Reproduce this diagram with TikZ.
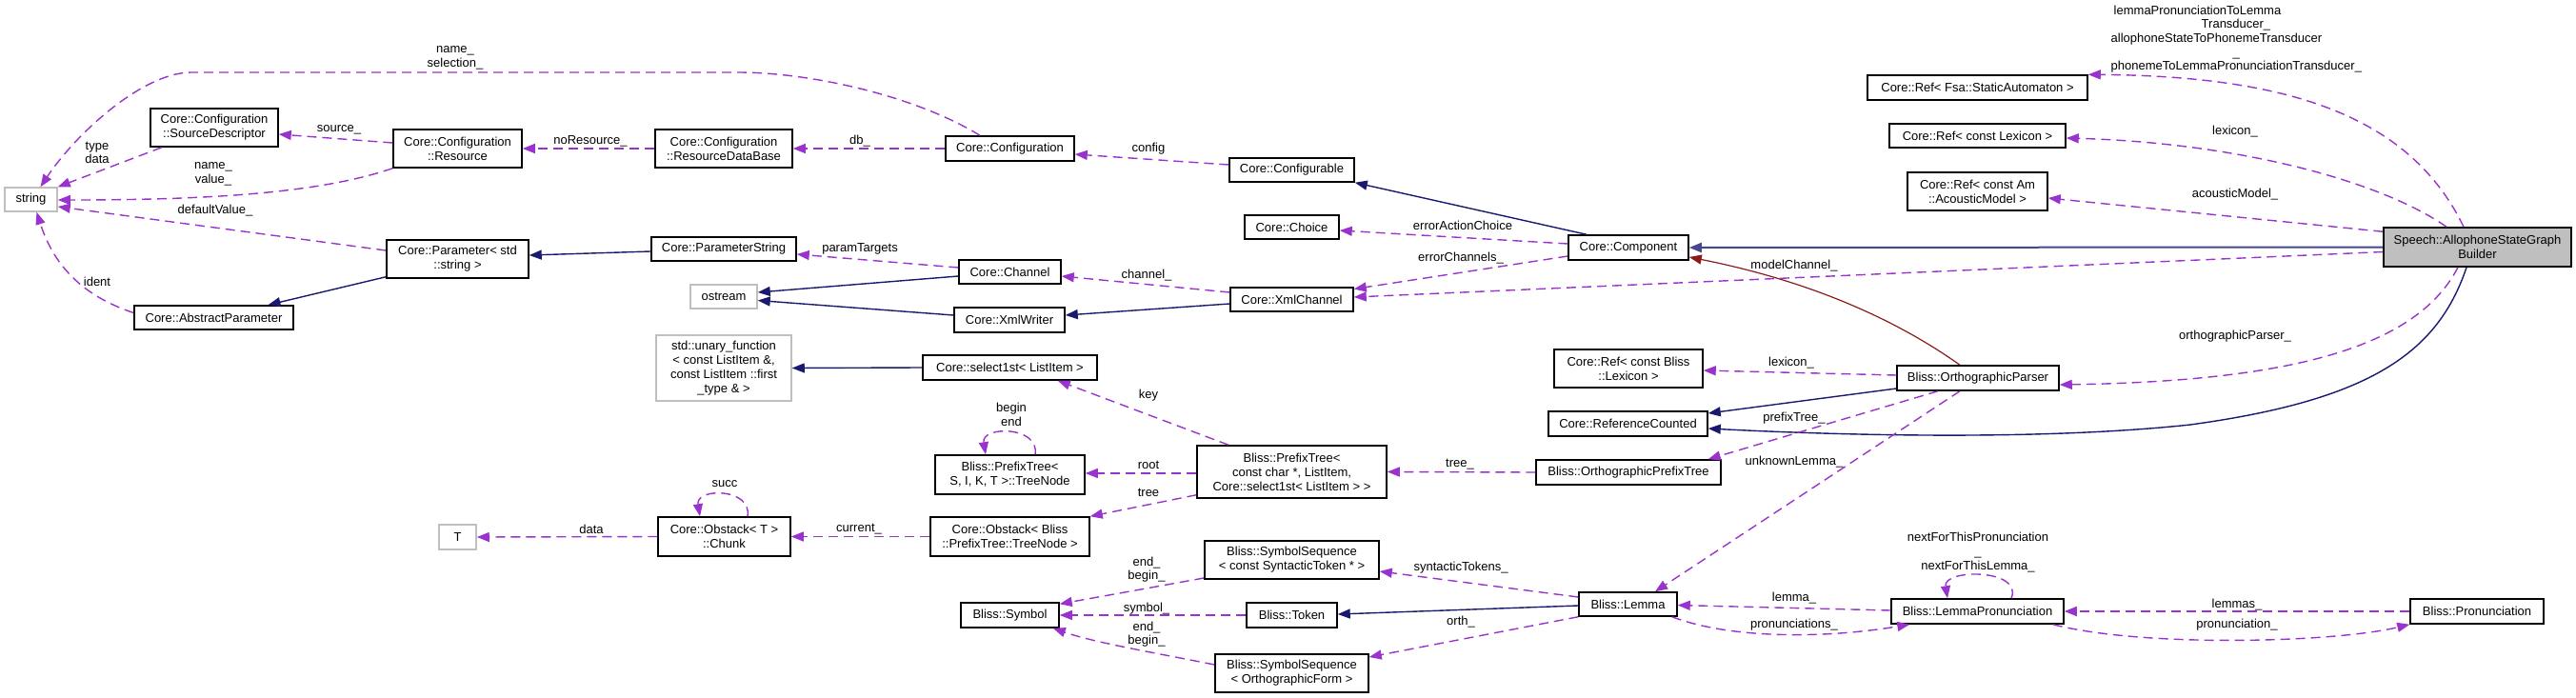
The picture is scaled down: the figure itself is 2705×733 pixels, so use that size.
\documentclass[tikz,border=0pt]{standalone}
\usepackage{fontspec}
\setmainfont{Liberation Sans}
\usetikzlibrary{arrows.meta,calc}
\definecolor{dxnavy}{HTML}{191970}
\definecolor{dxorch}{HTML}{9A32CD}
\definecolor{dxred}{HTML}{8B1A1A}
\definecolor{dxgray}{HTML}{BFBFBF}
\newcommand\dfs{\fontsize{13}{15}\selectfont}
\newcommand\lfs{\fontsize{13}{14.7}\selectfont}
\tikzset{
  cls/.style={draw=black, line width=1.5pt, fill=white, inner sep=0pt, align=center, font=\dfs},
  ext/.style={cls, draw=dxgray},
  sz/.style 2 args={minimum width=#1pt, minimum height=#2pt},
  tip/.style={-{Triangle[length=13pt,width=10pt]}},
  inh/.style={draw=dxnavy, line width=1.4pt, tip},
  priv/.style={draw=dxred, line width=1.2pt, tip},
  use/.style={draw=dxorch, line width=1.4pt, dash pattern=on 10pt off 6pt, tip},
  lbl/.style={font=\lfs, inner sep=0pt, align=center, text=black},
}
\begin{document}
\begin{tikzpicture}[x=1pt,y=-1pt]
\useasboundingbox (0,0) rectangle (2705,733);
% ---------- nodes ----------
\node[ext,sz={55}{25}] (string) at (32.5,209.5) {string};
\node[cls,sz={134}{40}] (srcdesc) at (225,134) {Core::Configuration\\::SourceDescriptor};
\node[cls,sz={135}{40}] (resource) at (480.5,156) {Core::Configuration\\::Resource};
\node[cls,sz={144}{40}] (resdb) at (760,156) {Core::Configuration\\::ResourceDataBase};
\node[cls,sz={135}{26}] (configuration) at (1060.5,156) {Core::Configuration};
\node[cls,sz={131}{25}] (configurable) at (1356.5,178.5) {Core::Configurable};
\node[cls,sz={99}{25}] (choice) at (1356.5,238.5) {Core::Choice};
\node[cls,sz={126}{26}] (component) at (1710,260) {Core::Component};
\node[cls,sz={149}{40}] (param) at (480.5,272) {Core::Parameter< std\\::string >};
\node[cls,sz={152}{25}] (paramstring) at (760,261.5) {Core::ParameterString};
\node[cls,sz={167}{25}] (abstractparam) at (224.5,333.5) {Core::AbstractParameter};
\node[ext,sz={70}{25}] (ostream) at (760,311.5) {ostream};
\node[cls,sz={107}{25}] (channel) at (1060.5,285.5) {Core::Channel};
\node[cls,sz={116}{26}] (xmlwriter) at (1060,336) {Core::XmlWriter};
\node[cls,sz={129}{25}] (xmlchannel) at (1356.5,314.5) {Core::XmlChannel};
\node[ext,sz={142}{69}] (unary) at (760,386.5) {std::unary\_function\\< const ListItem \&,\\ const ListItem ::first\\\_type \& >};
\node[cls,sz={183}{26}] (select1st) at (1060.5,386) {Core::select1st< ListItem >};
\node[cls,sz={157}{41}] (treenode) at (1060.5,498.5) {Bliss::PrefixTree<\\ S, I, K, T >::TreeNode};
\node[cls,sz={199}{55}] (prefixtree) at (1356.5,495.5) {Bliss::PrefixTree<\\ const char *, ListItem,\\ Core::select1st< ListItem > >};
\node[cls,sz={167}{41}] (obstacknode) at (1060.5,563.5) {Core::Obstack< Bliss\\::PrefixTree::TreeNode >};
\node[cls,sz={139}{41}] (chunk) at (760.5,563.5) {Core::Obstack< T >\\::Chunk};
\node[ext,sz={39}{26}] (tparam) at (480.5,564) {T};
\node[cls,sz={183}{40}] (symseqst) at (1356.5,588) {Bliss::SymbolSequence\\< const SyntacticToken * >};
\node[cls,sz={103}{26}] (symbol) at (1060.5,646) {Bliss::Symbol};
\node[cls,sz={95}{26}] (token) at (1356.5,646) {Bliss::Token};
\node[cls,sz={161}{40}] (symseqof) at (1356.5,707) {Bliss::SymbolSequence\\< OrthographicForm >};
\node[cls,sz={103}{25}] (lemma) at (1709.5,634.5) {Bliss::Lemma};
\node[cls,sz={156}{40}] (reflexbliss) at (1710,387) {Core::Ref< const Bliss\\::Lexicon >};
\node[cls,sz={167}{26}] (refcounted) at (1709.5,445) {Core::ReferenceCounted};
\node[cls,sz={194}{26}] (orthprefixtree) at (1710,496) {Bliss::OrthographicPrefixTree};
\node[cls,sz={170}{26}] (orthparser) at (2077,397) {Bliss::OrthographicParser};
\node[cls,sz={181}{26}] (lemmapron) at (2076.5,642) {Bliss::LemmaPronunciation};
\node[cls,sz={140}{26}] (pron) at (2601,642) {Bliss::Pronunciation};
\node[cls,sz={231}{26}] (reffsa) at (2076.5,92) {Core::Ref< Fsa::StaticAutomaton >};
\node[cls,sz={185}{25}] (reflex) at (2076.5,142.5) {Core::Ref< const Lexicon >};
\node[cls,sz={147}{40}] (refam) at (2076.5,201) {Core::Ref< const Am\\::AcousticModel >};
\node[cls,sz={197}{41},fill=dxgray] (speech) at (2601.5,259.5) {Speech::AllophoneStateGraph\\Builder};
% ---------- inheritance ----------
\draw[inh, draw=dxnavy!80, line width=2pt] (speech.west) -- (component.east);
\draw[inh] ($(speech.south)+(-11.5,0)$) .. controls (2560,370) and (2490,420) .. (2300,446)
   .. controls (2150,462) and (1950,458) .. ($(refcounted.east)+(0,5)$);
\draw[inh] ($(orthparser.west)+(0,11)$) -- ($(refcounted.east)+(0,-11)$);
\draw[inh] ($(component.north)+(-44,0)$) -- (configurable.south east);
\draw[inh] ($(xmlchannel.west)+(0,4.5)$) -- ($(xmlwriter.east)+(0,-5)$);
\draw[inh] ($(xmlwriter.west)+(0,-5)$) -- ($(ostream.east)+(0,4)$);
\draw[inh] ($(channel.west)+(0,4.5)$) -- ($(ostream.east)+(0,-4.5)$);
\draw[inh] ($(paramstring.west)+(0,2.5)$) -- ($(param.east)+(0,-4)$);
\draw[inh] ($(param.south west)+(0,-2)$) -- ($(abstractparam.north)+(57,0)$);
\draw[inh] (select1st.west) -- (unary.east);
\draw[inh] ($(lemma.west)+(0,1.5)$) -- ($(token.east)+(0,-1)$);
\draw[priv] ($(orthparser.north)+(-19,0)$) .. controls (1990,335) and (1900,295) .. ($(component.east)+(0,10)$);
% ---------- usage ----------
\draw[use] ($(configuration.north)+(-31.5,0)$) .. controls (960,100) and (850,76) .. (775,76) -- (201,76)
   .. controls (150,76) and (80,140) .. ($(string.north)+(10,0)$)
   node[lbl] at (478,60.5) {name\_\\selection\_};
\draw[use] ($(srcdesc.south)+(-55,0)$) -- (string.north east)
   node[lbl] at (102,160.5) {type\\data};
\draw[use] ($(resource.west)+(0,-6)$) -- ($(srcdesc.east)+(0,7)$)
   node[lbl] at (356,136) {source\_};
\draw[use] (resource.south west) .. controls (330,205) and (200,210) .. ($(string.east)+(0,0.5)$)
   node[lbl] at (224,182.5) {name\_\\value\_};
\draw[use] ($(param.west)+(0,-9)$) -- ($(string.east)+(0,7.5)$)
   node[lbl] at (226,221) {defaultValue\_};
\draw[use] ($(abstractparam.west)+(0,-5)$) .. controls (100,315) and (60,290) .. ($(string.south)+(6,0)$)
   node[lbl] at (102,296) {ident};
\draw[use] (resdb.west) -- (resource.east) node[lbl] at (620,148) {noResource\_};
\draw[use] (configuration.west) -- (resdb.east) node[lbl] at (903,148) {db\_};
\draw[use] ($(configurable.west)+(0,-5.5)$) -- ($(configuration.east)+(0,6)$)
   node[lbl] at (1206,156) {config};
\draw[use] ($(component.west)+(0,-4)$) -- ($(choice.east)+(0,3.5)$)
   node[lbl] at (1536,237) {errorActionChoice};
\draw[use] ($(component.west)+(0,9)$) -- ($(xmlchannel.east)+(0,-11)$)
   node[lbl] at (1534,271) {errorChannels\_};
\draw[use] ($(speech.west)+(0,5)$) -- ($(xmlchannel.east)+(0,-2.5)$)
   node[lbl] at (1884,279) {modelChannel\_};
\draw[use] ($(xmlchannel.west)+(0,-7.5)$) -- ($(channel.east)+(0,4.5)$)
   node[lbl] at (1204,289) {channel\_};
\draw[use] ($(channel.west)+(0,-4.5)$) -- ($(paramstring.east)+(0,5.5)$)
   node[lbl] at (903,261) {paramTargets};
\draw[use] ($(speech.north)+(-14.5,0)$) .. controls (2530,120) and (2400,80) .. (reffsa.north east)
   node[lbl, align=left, anchor=north west] at (2216,5) {\hspace*{3pt}lemmaPronunciationToLemma\\\hspace*{95pt}Transducer\_\\allophoneStateToPhonemeTransducer\\\hspace*{128pt}\_\\phonemeToLemmaPronunciationTransducer\_};
\draw[use] ($(speech.north)+(-32.5,0)$) .. controls (2500,190) and (2350,150) .. ($(reflex.east)+(0,2.5)$)
   node[lbl] at (2347,138) {lexicon\_};
\draw[use] ($(speech.north west)+(0,5)$) -- ($(refam.east)+(0,7)$)
   node[lbl] at (2347,204) {acousticModel\_};
\draw[use] ($(speech.south)+(-20.5,0)$) .. controls (2540,360) and (2420,400) .. ($(orthparser.east)+(0,7)$)
   node[lbl] at (2347,353) {orthographicParser\_};
\draw[use] ($(orthparser.west)+(0,-3)$) -- ($(reflexbliss.east)+(0,2)$)
   node[lbl] at (1881,381) {lexicon\_};
\draw[use] ($(orthparser.south)+(-42,0)$) -- ($(orthprefixtree.north east)+(-14,0)$)
   node[lbl] at (1884,439) {prefixTree\_};
\draw[use] ($(orthparser.south)+(-19,0)$) -- ($(lemma.north)+(28.5,0)$)
   node[lbl] at (1884,485) {unknownLemma\_};
\draw[use] (orthprefixtree.west) -- (prefixtree.east) node[lbl] at (1533,488) {tree\_};
\draw[use] ($(prefixtree.north)+(-66.5,0)$) -- ($(select1st.south east)+(-42,0)$)
   node[lbl] at (1206,415) {key};
\draw[use] ($(prefixtree.west)+(0,1.5)$) -- ($(treenode.east)+(0,-1.5)$)
   node[lbl] at (1206,488) {root};
\draw[use] ($(treenode.north)+(26.5,0)$) .. controls (1092,447) and (1030,447) .. ($(treenode.north)+(-25.5,0)$)
   node[lbl] at (1062,435.5) {begin\\end};
\draw[use] ($(prefixtree.south west)+(0,-4)$) -- (obstacknode.north east)
   node[lbl] at (1206,517) {tree};
\draw[use] (obstacknode.west) -- (chunk.east) node[lbl] at (902,556) {current\_};
\draw[use] ($(chunk.north)+(24.5,0)$) .. controls (790,512) and (730,512) .. ($(chunk.north)+(-25.5,0)$)
   node[lbl] at (761,508) {succ};
\draw[use] (chunk.west) -- (tparam.east) node[lbl] at (621,556) {data};
\draw[use] ($(lemma.west)+(0,-7.5)$) -- ($(symseqst.east)+(0,12)$)
   node[lbl] at (1534,596) {syntacticTokens\_};
\draw[use] (lemma.south west) -- ($(symseqof.east)+(0,-17)$)
   node[lbl] at (1534,653) {orth\_};
\draw[use] ($(symseqst.west)+(0,19)$) -- ($(symbol.north east)+(0,2)$)
   node[lbl] at (1204,598) {end\_\\begin\_};
\draw[use] (token.west) -- (symbol.east) node[lbl] at (1204,639) {symbol\_};
\draw[use] ($(symseqof.west)+(0,-9)$) .. controls (1210,685) and (1150,675) .. ($(symbol.south east)+(-7,0)$)
   node[lbl] at (1204,666) {end\_\\begin\_};
\draw[use] ($(lemmapron.west)+(0,-1)$) -- ($(lemma.east)+(0,1)$)
   node[lbl] at (1884,628) {lemma\_};
\draw[use] ($(lemma.south east)+(-6,0)$) .. controls (1820,672) and (1920,670) .. ($(lemmapron.south west)+(20,0)$)
   node[lbl] at (1884,656) {pronunciations\_};
\draw[use] ($(lemmapron.north)+(35.5,0)$) .. controls (2125,597) and (2040,597) .. ($(lemmapron.north)+(-31.5,0)$)
   node[lbl] at (2077,580) {nextForThisPronunciation\\\_\\nextForThisLemma\_};
\draw[use] (pron.west) -- (lemmapron.east) node[lbl] at (2349,635) {lemmas\_};
\draw[use] ($(lemmapron.south east)+(-12,0)$) .. controls (2250,680) and (2450,675) .. (pron.south west)
   node[lbl] at (2349,656) {pronunciation\_};
\end{tikzpicture}
\end{document}
